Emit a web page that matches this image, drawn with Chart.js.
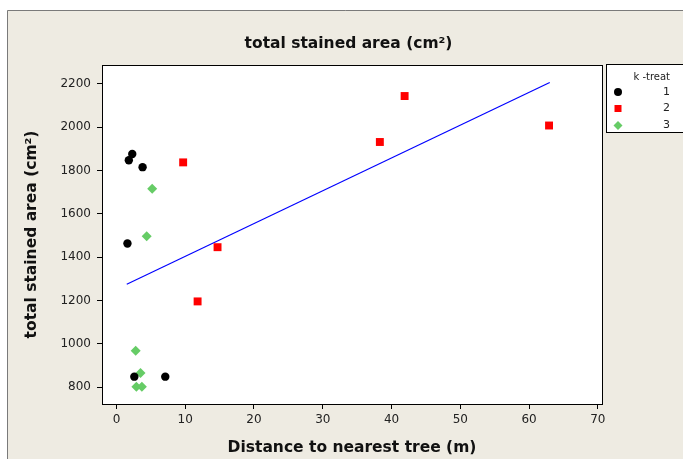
<!DOCTYPE html>
<html>
<head>
<meta charset="utf-8">
<script src="https://cdn.jsdelivr.net/npm/chart.js"></script>
<style>
body { margin: 0; background: #ffffff; }
</style>
</head>
<body>
<canvas id="grafico" width="683" height="459"></canvas>
<script>
// datos
var grupos = ['1', '2', '3'];
var k1X = [2.3, 1.8, 3.8, 1.6, 2.6, 7.1];
var k1Y = [1876, 1847, 1815, 1463, 849, 849];
var k2X = [9.7, 14.7, 11.8, 38.3, 41.9, 62.9];
var k2Y = [1837, 1446, 1196, 1931, 2143, 2007];
var k3X = [5.2, 4.4, 2.8, 3.5, 2.9, 3.7];
var k3Y = [1716, 1497, 968, 866, 803, 803];
var ajusteX = [1.5, 63.0];
var ajusteY = [1275, 2205];
var ticksX = [0, 10, 20, 30, 40, 50, 60, 70];
var ticksY = [800, 1000, 1200, 1400, 1600, 1800, 2000, 2200];

var colores = ['#000000', '#ff0000', '#66cc66'];
var estilos = ['circle', 'rect', 'rectRot'];
var radios = [4.2, 5.6, 5];

function puntos(xs, ys) {
    var p = [];
    for (var i = 0; i < xs.length; i++) {
        p.push({ x: xs[i], y: ys[i] });
    }
    return p;
}

var fuente = 'DejaVu Sans';

// fondo beige, marco y leyenda
var marco = {
    id: 'marco',
    beforeDraw: function (chart) {
        var ctx = chart.ctx;
        var a = chart.chartArea;
        ctx.save();
        ctx.fillStyle = '#ffffff';
        ctx.fillRect(0, 0, chart.width, chart.height);
        ctx.fillStyle = '#eeebe2';
        ctx.fillRect(7, 10, chart.width, chart.height);
        ctx.strokeStyle = '#7a7a7a';
        ctx.lineWidth = 1;
        ctx.beginPath();
        ctx.moveTo(7.5, chart.height);
        ctx.lineTo(7.5, 10.5);
        ctx.lineTo(chart.width, 10.5);
        ctx.stroke();
        ctx.fillStyle = '#ffffff';
        ctx.fillRect(a.left, a.top, a.right - a.left, a.bottom - a.top);
        ctx.restore();
    },
    afterDraw: function (chart) {
        var ctx = chart.ctx;
        var a = chart.chartArea;
        ctx.save();
        ctx.strokeStyle = '#000000';
        ctx.lineWidth = 1;
        ctx.strokeRect(Math.round(a.left) + 0.5, Math.round(a.top) + 0.5, Math.round(a.right - a.left), Math.round(a.bottom - a.top));
        // leyenda
        var lx = 606.5, ly = 64.5;
        ctx.fillStyle = '#ffffff';
        ctx.fillRect(lx, ly, 90, 68);
        ctx.strokeRect(lx, ly, 90, 68);
        ctx.fillStyle = '#222222';
        ctx.textAlign = 'right';
        ctx.textBaseline = 'middle';
        ctx.font = '10px "' + fuente + '"';
        ctx.fillText('k -treat', 670, 77);
        var filas = [92, 108.5, 125.5];
        ctx.font = '11px "' + fuente + '"';
        for (var i = 0; i < grupos.length; i++) {
            var y = filas[i];
            ctx.fillStyle = colores[i];
            ctx.beginPath();
            if (estilos[i] == 'circle') {
                ctx.arc(618, y, 4, 0, Math.PI * 2);
            } else if (estilos[i] == 'rect') {
                ctx.rect(614.5, y - 3.5, 7, 7);
            } else {
                ctx.moveTo(613.5, y);
                ctx.lineTo(618, y - 4.5);
                ctx.lineTo(622.5, y);
                ctx.lineTo(618, y + 4.5);
                ctx.closePath();
            }
            ctx.fill();
            ctx.fillStyle = '#222222';
            ctx.fillText(grupos[i], 670, y);
        }
        ctx.restore();
    }
};

var datasets = [];
var xs = [k1X, k2X, k3X];
var ys = [k1Y, k2Y, k3Y];
for (var i = 0; i < grupos.length; i++) {
    datasets.push({
        label: grupos[i],
        data: puntos(xs[i], ys[i]),
        backgroundColor: colores[i],
        pointStyle: estilos[i],
        pointRadius: radios[i],
        pointBorderWidth: 0
    });
}
datasets.push({
    type: 'line',
    label: 'ajuste',
    data: puntos(ajusteX, ajusteY),
    borderColor: '#0000ff',
    borderWidth: 1.2,
    pointRadius: 0,
    fill: false
});

var grafico = new Chart(document.getElementById('grafico'), {
    type: 'scatter',
    data: { datasets: datasets },
    plugins: [marco],
    options: {
        responsive: false,
        animation: false,
        layout: { padding: { left: 14, right: 0, top: 0, bottom: 0 } },
        plugins: {
            legend: { display: false },
            tooltip: { enabled: false },
            title: {
                display: true,
                text: 'total stained area (cm²)',
                color: '#111111',
                font: { family: fuente, size: 15.5, weight: 'bold' },
                padding: { top: 35, bottom: 11.4 }
            }
        },
        scales: {
            x: {
                type: 'linear',
                min: -2.1,
                max: 70.6,
                afterBuildTicks: function (s) {
                    s.ticks = ticksX.map(function (v) { return { value: v }; });
                },
                afterFit: function (s) { s.height = 55; },
                grid: { drawOnChartArea: false, drawTicks: true, tickLength: 5, color: '#000000' },
                border: { display: true, color: '#000000' },
                ticks: {
                    color: '#222222',
                    padding: 4,
                    font: { family: fuente, size: 12 },
                    callback: function (v) { return String(v); }
                },
                title: {
                    display: true,
                    text: 'Distance to nearest tree (m)',
                    color: '#111111',
                    font: { family: fuente, size: 15.5, weight: 'bold' },
                    padding: { top: 0, bottom: 2 }
                }
            },
            y: {
                type: 'linear',
                min: 723,
                max: 2286,
                afterBuildTicks: function (s) {
                    s.ticks = ticksY.map(function (v) { return { value: v }; });
                },
                afterFit: function (s) { s.width = 88; },
                grid: { drawOnChartArea: false, drawTicks: true, tickLength: 5, color: '#000000' },
                border: { display: true, color: '#000000' },
                ticks: {
                    color: '#222222',
                    padding: 6,
                    font: { family: fuente, size: 12 },
                    callback: function (v) { return String(v); }
                },
                title: {
                    display: true,
                    text: 'total stained area (cm²)',
                    color: '#111111',
                    font: { family: fuente, size: 15.5, weight: 'bold' },
                    padding: { top: 9, bottom: 0 }
                }
            },
            // eje vacio a la derecha, deja sitio para la leyenda
            hueco: {
                type: 'linear',
                position: 'right',
                grid: { display: false },
                border: { display: false },
                ticks: { display: false },
                afterFit: function (s) { s.width = 81; }
            }
        }
    }
});
</script>
</body>
</html>
